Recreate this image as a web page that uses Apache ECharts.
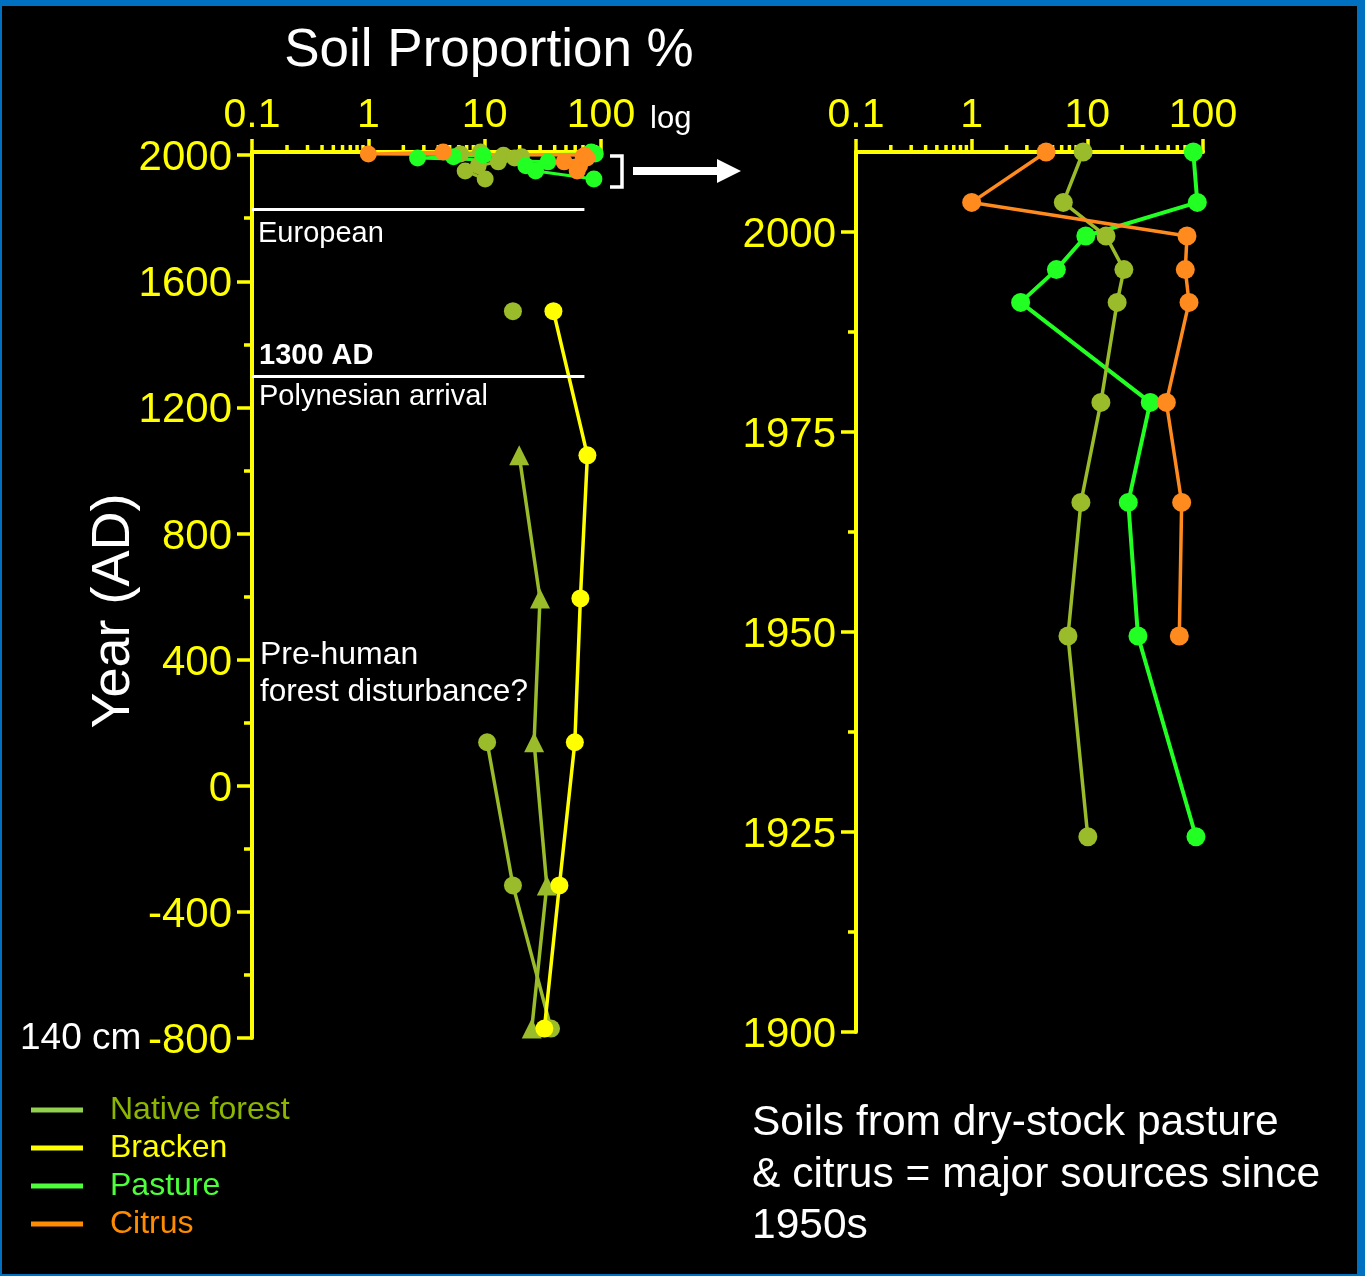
<!DOCTYPE html>
<html><head><meta charset="utf-8">
<script src="https://cdn.jsdelivr.net/npm/echarts@6/dist/echarts.min.js"></script>
<style>
html,body{margin:0;padding:0;background:#000;}
#c{width:1365px;height:1276px;}
#frame{position:absolute;left:0;top:0;width:1365px;height:1276px;box-sizing:border-box;border-style:solid;border-color:#0070C0;border-width:6px 8px 2px 2px;pointer-events:none;}
</style></head><body>
<div id="c"></div><div id="frame"></div>
<script>
const FONT = '"Liberation Sans", Arial, Helvetica, sans-serif';

// ---- data (years AD, soil proportion %) ----
const recentYears   = [2010, 2003.7, 1999.5, 1995.3, 1991.2, 1978.7, 1966.2, 1949.5, 1924.4];
const recentNative  = [9.2, 6.2, 14.5, 20.7, 18.1, 13.1, 8.8, 6.8, 10.1];
const recentPasture = [82.4, 89.3, 9.7, 5.4, 2.65, 35.0, 22.6, 27.4, 86.9];
const recentCitrus  = [4.4, 1.0, 72.7, 70.3, 75.7, 48.2, 65.4, 62.4, null];

const oldYears          = [1505, 1048, 594, 138, -316, -770];
const oldNativeCircle   = [17.5, null, null, 10.5, 17.5, 37.2];
const oldNativeTriangle = [null, 19.8, 29.9, 26.6, 34.2, 25.4];
const oldBracken        = [39.0, 76.4, 66.5, 59.6, 43.9, 32.6];

const leftYTicks  = [-800, -400, 0, 400, 800, 1200, 1600, 2000];
const rightYTicks = [1900, 1925, 1950, 1975, 2000];
const xMinorTicks = [0.2,0.3,0.4,0.5,0.6,0.7,0.8,0.9, 2,3,4,5,6,7,8,9, 20,30,40,50,60,70,80,90];

const europeanYear = 1830, polynesianYear = 1300;

// ---- colours ----
const OLIVE = '#9ABB2A', YELLOW = '#FFFF00', GREEN = '#22FF22', ORANGE = '#FF8A1E', AX = '#FFFF00';

function pts(xs, ys, keepGaps) {
  const out = [];
  xs.forEach((v, i) => {
    if (v == null) { if (keepGaps) out.push(['-', ys[i]]); }
    else out.push([v, ys[i]]);
  });
  return out;
}

function xAxisCfg(gi) {
  return {
    gridIndex: gi, type: 'log', logBase: 10, min: 0.1, max: 100, position: 'top',
    axisLine: { show: true, onZero: false, lineStyle: { color: AX, width: 4 } },
    axisTick: { show: true, inside: false, length: 13, lineStyle: { color: AX, width: 3.5 } },
    axisLabel: { color: AX, fontSize: 41, fontFamily: FONT, margin: 16,
      formatter: v => String(parseFloat(Number(v).toPrecision(6))) },
    splitLine: { show: false }, minorTick: { show: false }, minorSplitLine: { show: false }
  };
}
function yAxisCfg(gi, min, max, interval, ticks) {
  return {
    gridIndex: gi, type: 'value', min: min, max: max, interval: interval,
    axisLine: { show: true, onZero: false, lineStyle: { color: AX, width: 4 } },
    axisTick: { show: true, length: 15, customValues: ticks, lineStyle: { color: AX, width: 3.5 } },
    minorTick: { show: true, splitNumber: 2, length: 8, lineStyle: { color: AX, width: 3.5 } },
    axisLabel: { color: AX, fontSize: 42, fontFamily: FONT, margin: 20, customValues: ticks,
      formatter: v => '{t|' + String(v) + '}',
      rich: { t: { color: AX, fontSize: 42, fontFamily: FONT, padding: [7, 0, 0, 0] } } },
    splitLine: { show: false }, minorSplitLine: { show: false }
  };
}
function lineSeries(name, xi, data, color, opts) {
  return Object.assign({
    type: 'line', name: name, xAxisIndex: xi, yAxisIndex: xi, data: data,
    symbol: 'circle', symbolSize: 18, connectNulls: false, clip: false,
    lineStyle: { color: color, width: 3.5 }, itemStyle: { color: color },
    emphasis: { disabled: true }, animation: false
  }, opts || {});
}
function minorTickSeries(xi) {
  return {
    type: 'custom', xAxisIndex: xi, yAxisIndex: xi, silent: true, clip: false, animation: false,
    data: xMinorTicks.map(v => [v, xi === 0 ? 1000 : 1950]),
    renderItem: (params, api) => {
      const p = api.coord([api.value(0), api.value(1)]);
      const cs = params.coordSys;
      return { type: 'line', shape: { x1: p[0], y1: cs.y, x2: p[0], y2: cs.y - 7 },
               style: { stroke: AX, lineWidth: 3.5 } };
    }
  };
}
function txt(x, y, text, size, color, extra) {
  const st = Object.assign({ text: text, fill: color || '#fff', font: (extra && extra.weight ? extra.weight + ' ' : '') + size + 'px ' + FONT,
    align: (extra && extra.align) || 'left', verticalAlign: 'middle',
    textAlign: (extra && extra.align) || 'left', textVerticalAlign: 'middle' });
  return { type: 'text', x: x, y: y, rotation: (extra && extra.rotation) || 0, silent: true, style: st };
}

const chart = echarts.init(document.getElementById('c'), null, { renderer: 'canvas' });
chart.setOption({
  backgroundColor: '#000',
  animation: false,
  grid: [
    { left: 252, top: 152, width: 349, height: 886 },
    { left: 856, top: 152, width: 347, height: 880 }
  ],
  xAxis: [xAxisCfg(0), xAxisCfg(1)],
  yAxis: [yAxisCfg(0, -800, 2010, 400, leftYTicks), yAxisCfg(1, 1900, 2010, 25, rightYTicks)],
  legend: {
    orient: 'vertical', left: 31, top: 1094, padding: 0, itemWidth: 52, itemHeight: 5, itemGap: 6,
    icon: 'rect', selectedMode: false,
    lineStyle: { width: 5 },
    textStyle: { fontSize: 32, fontFamily: FONT, padding: [0, 0, 0, 22] },
    data: [
      { name: 'Native forest', itemStyle: { color: '#92D050' }, lineStyle: { color: '#92D050', width: 5 }, textStyle: { color: '#8DB600' } },
      { name: 'Bracken', itemStyle: { color: '#FFFF00' }, lineStyle: { color: '#FFFF00', width: 5 }, textStyle: { color: '#FFFF00' } },
      { name: 'Pasture', itemStyle: { color: '#4CFF3A' }, lineStyle: { color: '#4CFF3A', width: 5 }, textStyle: { color: '#4CFF3A' } },
      { name: 'Citrus', itemStyle: { color: '#FF8C00' }, lineStyle: { color: '#FF8C00', width: 5 }, textStyle: { color: '#FF8C00' } }
    ]
  },
  series: [
    minorTickSeries(0), minorTickSeries(1),
    // left chart, recent samples
    lineSeries('Native forest', 0, pts(recentNative, recentYears), OLIVE, { lineStyle: { color: OLIVE, width: 3 }, symbolSize: 17 }),
    lineSeries('Pasture', 0, pts(recentPasture, recentYears), GREEN, { lineStyle: { color: GREEN, width: 3 }, symbolSize: 17 }),
    lineSeries('Citrus', 0, pts(recentCitrus, recentYears), ORANGE, { lineStyle: { color: ORANGE, width: 3 }, symbolSize: 17 }),
    // left chart, older samples
    lineSeries('Native forest', 0, pts(oldNativeCircle, oldYears, true), OLIVE, { symbolSize: 18 }),
    lineSeries('Native forest', 0, pts(oldNativeTriangle, oldYears), OLIVE, { symbol: 'triangle', symbolSize: 20 }),
    lineSeries('Bracken', 0, pts(oldBracken, oldYears), YELLOW, {
      symbolSize: 18,
      markLine: {
        silent: true, symbol: ['none', 'none'], animation: false,
        label: { show: false },
        lineStyle: { color: '#FFFFFF', width: 3, type: 'solid' },
        emphasis: { disabled: true },
        data: [
          [{ coord: [0.1, europeanYear] }, { coord: [72, europeanYear] }],
          [{ coord: [0.1, polynesianYear] }, { coord: [72, polynesianYear] }]
        ]
      }
    }),
    // right chart
    lineSeries('Pasture', 1, pts(recentPasture, recentYears), GREEN, { lineStyle: { color: GREEN, width: 4 }, symbolSize: 19 }),
    lineSeries('Native forest', 1, pts(recentNative, recentYears), OLIVE, { symbolSize: 19 }),
    lineSeries('Citrus', 1, pts(recentCitrus, recentYears), ORANGE, { symbolSize: 19 })
  ],
  graphic: [
    txt(489, 51, 'Soil Proportion %', 53, '#fff', { align: 'center' }),
    txt(650, 119, 'log', 31, '#fff'),
    txt(114, 611, 'Year (AD)', 54, '#fff', { align: 'center', rotation: Math.PI / 2 }),
    txt(258, 234, 'European', 29, '#fff'),
    txt(259, 356, '1300 AD', 29, '#fff', { weight: 'bold' }),
    txt(259, 397, 'Polynesian arrival', 29, '#fff'),
    txt(260, 655, 'Pre-human', 32, '#fff'),
    txt(260, 692, 'forest disturbance?', 31.5, '#fff'),
    txt(20, 1039, '140 cm', 37, '#fff'),
    txt(752, 1123, 'Soils from dry-stock pasture', 42.5, '#fff'),
    txt(752, 1175, '& citrus = major sources since', 42.5, '#fff'),
    txt(752, 1226, '1950s', 42.5, '#fff'),
    { type: 'polyline', silent: true, shape: { points: [[610, 156], [622, 156], [622, 187], [610, 187]] },
      style: { stroke: '#fff', lineWidth: 3.5, fill: null } },
    { type: 'rect', silent: true, shape: { x: 633, y: 167, width: 86, height: 8 }, style: { fill: '#fff' } },
    { type: 'polygon', silent: true, shape: { points: [[717, 159], [741, 171], [717, 183]] }, style: { fill: '#fff' } }
  ]
});
</script>
</body></html>
